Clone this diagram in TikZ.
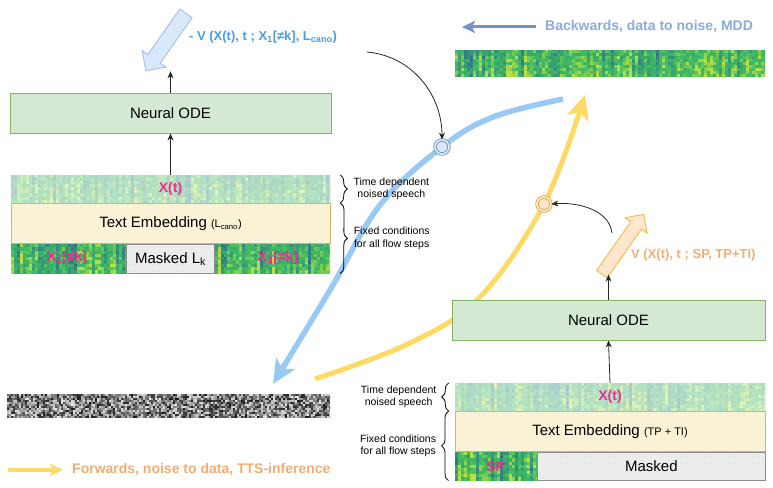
\documentclass[tikz,border=0pt]{standalone}
\usepackage{fontspec}
\setmainfont{Liberation Sans}
\usepackage{tikz}
\usetikzlibrary{positioning,calc,arrows.meta,shapes.arrows,patterns,decorations.pathreplacing}
\usepackage{xcolor}

\definecolor{odefill}{HTML}{D5E8D4}
\definecolor{odedraw}{HTML}{82B366}
\definecolor{embfill}{HTML}{FFF2CC}
\definecolor{embdraw}{HTML}{D6B656}
\definecolor{maskfill}{HTML}{F2F2F2}
\definecolor{maskdraw}{HTML}{8C8C8C}
\definecolor{vblue}{HTML}{2F6B8E}
\definecolor{vgreen}{HTML}{3DB865}
\definecolor{vyellow}{HTML}{D2E838}
\definecolor{bwline}{HTML}{99C9F5}
\definecolor{fwline}{HTML}{FFD966}
\definecolor{bcircdraw}{HTML}{6C8EBF}
\definecolor{bcircfill}{HTML}{DAE8FC}
\definecolor{bfatdraw}{HTML}{A9C4EB}
\definecolor{ycircdraw}{HTML}{E0A43C}
\definecolor{ycircfill}{HTML}{FFE6CC}
\definecolor{yfatdraw}{HTML}{F2C05A}
\definecolor{pinkl}{HTML}{EE2E8E}
\definecolor{bluetxt}{HTML}{4C9BE8}
\definecolor{orangetxt}{HTML}{F2AE72}
\definecolor{bwtxt}{HTML}{8EAADB}
\definecolor{bwarr}{HTML}{7393CB}

% spectrogram cells inside a node: name, width, height, seed, fade
\newcommand{\spectro}[5]{%
  \begin{scope}
    \clip (#1.north west) rectangle (#1.south east);
    \begin{scope}[shift={(#1.north west)}]
      \pgfmathsetseed{#4}
      \pgfmathtruncatemacro\ncol{#2/3}
      \foreach \c in {0,...,\ncol}{
        \pgfmathsetmacro\base{sqrt(rnd)}
        \foreach \r in {0,...,8}{
          \pgfmathsetmacro\v{min(1,max(0,0.7*\base+0.45*rnd-0.12+0.015*\r))}
          \pgfmathtruncatemacro\pb{100-min(100,160*\v)}
          \pgfmathtruncatemacro\pq{100-max(0,(\v-0.7)*270)}
          \fill[vblue!\pb!vgreen!\pq!vyellow] (\c*3,\r*#3/9) rectangle ++(3.3,#3/9+0.3);
        }
      }
      \fill[white,opacity=#5] (0,0) rectangle (#2,#3);
    \end{scope}
  \end{scope}}

% grey noise inside a node: name, width, height, seed
\newcommand{\noisebar}[4]{%
  \begin{scope}
    \clip (#1.north west) rectangle (#1.south east);
    \begin{scope}[shift={(#1.north west)}]
      \pgfmathsetseed{#4}
      \pgfmathtruncatemacro\ncol{#2/2}
      \pgfmathtruncatemacro\nrow{#3/2-1}
      \foreach \c in {0,...,\ncol}{
        \foreach \r in {0,...,\nrow}{
          \pgfmathtruncatemacro\g{10+80*rnd}
          \fill[black!\g] (\c*2,\r*2) rectangle ++(2.2,2.2);
        }
      }
    \end{scope}
  \end{scope}}

\begin{document}
\begin{tikzpicture}[x=1pt,y=-1pt,
    box/.style={rectangle,draw,line width=1pt,inner sep=0pt,font=\fontsize{15}{18}\selectfont},
    ode/.style={box,fill=odefill,draw=odedraw,minimum height=40pt},
    emb/.style={box,fill=embfill,draw=embdraw,minimum height=40pt,
        postaction={pattern=north east lines,pattern color=embdraw!18},
        postaction={pattern=north west lines,pattern color=embdraw!18},
        postaction={draw=embdraw,line width=1pt}},
    mask/.style={box,fill=maskfill,draw=maskdraw,
        postaction={pattern=north east lines,pattern color=black!9},
        postaction={pattern=north west lines,pattern color=black!9},
        postaction={draw=maskdraw,line width=1pt}},
    strip/.style={rectangle,inner sep=0pt},
    lab/.style={text=pinkl,font=\bfseries\fontsize{14}{16}\selectfont},
    note/.style={font=\fontsize{10.5}{12.5}\selectfont,align=center,inner sep=0pt},
    legtxt/.style={font=\bfseries\fontsize{14}{16}\selectfont,inner sep=0pt},
    vtxt/.style={font=\bfseries\fontsize{13}{15}\selectfont,inner sep=0pt},
    brace/.style={decorate,decoration={brace,amplitude=7pt},line width=0.8pt},
    arr/.style={-{Stealth[length=7pt,width=6pt]},line width=0.8pt,black!85},
    fat/.style={single arrow,line width=1pt,inner xsep=0pt,inner ysep=7pt,
        single arrow head extend=7pt,single arrow head indent=0pt},
    bcirc/.style={circle,draw=bcircdraw,fill=bcircfill,double=bcircfill,double distance=1.8pt,
        line width=0.8pt,minimum size=14pt,inner sep=0pt},
    ycirc/.style={bcirc,draw=ycircdraw,fill=ycircfill,double=ycircfill}]

\useasboundingbox (0,0) rectangle (773,487);

% Flow paths
\coordinate (bcp) at (442,147);
\coordinate (ycp) at (544,204);
\draw[bwline,line width=5.5pt,-{Stealth[length=24pt,width=22pt,inset=6pt]}]
    plot[smooth,tension=0.6] coordinates {(563,99) (493,117) (bcp) (380,205) (330,290) (273,384)};
\draw[fwline,line width=5pt,-{Stealth[length=24pt,width=22pt,inset=6pt]}]
    plot[smooth,tension=0.6] coordinates {(315,379) (410,343) (480,297) (ycp) (585,95)};
\node[bcirc] (bc) at (bcp) {};
\node[ycirc] (yc) at (ycp) {};

% Left stack
\node[ode,minimum width=321] (ode1) at (170.5,113) {Neural ODE};
\node[strip,minimum width=319,minimum height=28] (xt1) at (170.5,189) {};
\node[emb,minimum width=319,below=0pt of xt1] (emb1) {Text Embedding {\fontsize{11}{13}\selectfont(L\textsubscript{cano})}};
\node[strip,minimum width=319,minimum height=29,below=0pt of emb1] (bot1) {};
\spectro{xt1}{319}{28}{3}{0.6}
\spectro{bot1}{319}{29}{7}{0}
\node[lab] (xt1lab) at (xt1) {X(t)};
\node[mask,minimum width=88,minimum height=29] (mask1) at (bot1) {Masked L\textsubscript{k}};
\node[lab] (xk1) at (67,258) {X\textsubscript{1}[≠k]};
\node[lab] (xk2) at (278,258) {X\textsubscript{1}[≠k]};

\draw[brace] ([xshift=10pt]xt1.north east) -- ([xshift=10pt]xt1.south east)
    node[note,midway,right=13pt] (tdn1) {Time dependent\\noised speech};
\draw[brace] ([xshift=10pt]emb1.north east) -- ([xshift=10pt]bot1.south east)
    node[note,midway,right=13pt] (fc1) {Fixed conditions\\for all flow steps};

% Backwards vector
\node[fat,fill=bcircfill,draw=bfatdraw,minimum height=70pt,rotate=235] (vb) at (168,39) {};
\node[vtxt,text=bluetxt,anchor=west] (vlab1) at (189,37)
    {- V (X(t), t ; X\textsubscript{1}[≠k], L\textsubscript{cano})};
\draw[arr] (xt1.north) -- (ode1.south);
\draw[arr] (ode1.north) -- (ode1.north |- vb.tip);

% Right stack
\node[ode,minimum width=313] (ode2) at (608.5,320) {Neural ODE};
\node[strip,minimum width=310,minimum height=28] (xt2) at (610,397) {};
\node[emb,minimum width=310,below=0pt of xt2] (emb2) {Text Embedding {\fontsize{11}{13}\selectfont(TP + TI)}};
\node[strip,minimum width=82,minimum height=28,anchor=north west] (sp2) at (emb2.south west) {};
\spectro{xt2}{310}{28}{11}{0.6}
\spectro{sp2}{82}{28}{13}{0}
\node[lab] (xt2lab) at (xt2) {X(t)};
\node[lab] (splab) at (sp2) {SP};
\node[mask,minimum width=228,minimum height=28,right=0pt of sp2] (mask2) {Masked};

\draw[brace] ([xshift=-6pt]xt2.south west) -- ([xshift=-6pt]xt2.north west)
    node[note,midway,left=12pt] (tdn2) {Time dependent\\noised speech};
\draw[brace] ([xshift=-6pt]sp2.south west) -- ([xshift=-6pt]emb2.north west)
    node[note,midway,left=12pt] (fc2) {Fixed conditions\\for all flow steps};

% Forwards vector
\node[fat,fill=ycircfill,draw=yfatdraw,minimum height=73pt,inner ysep=6pt,rotate=55] (vo) at (621,247) {};
\node[vtxt,text=orangetxt,anchor=west] (vlab2) at (631,255) {V (X(t), t ; SP, TP+TI)};
\draw[arr] (xt2.north) -- (ode2.south);
\draw[arr] (ode2.north) -- (ode2.north |- vo.tail);

% Data and noise
\node[strip,minimum width=310,minimum height=27] (spec3) at (610,63.5) {};
\spectro{spec3}{310}{27}{17}{0}
\node[strip,minimum width=323,minimum height=24] (noise1) at (168.5,406) {};
\noisebar{noise1}{323}{24}{21}

% Pointers to the flow
\coordinate (c1) at (367,52);
\coordinate (c2) at (612,233);
\draw[arr] (c1) .. controls +(45,4) and +(0,-45) .. (bc.north);
\draw[arr] (c2) .. controls +(-3,-24) and +(25,-2) .. (yc.east);

% Legend
\coordinate (bwend) at (462,27);
\node[legtxt,text=bwtxt,anchor=west] (bwleg) at (545,27) {Backwards, data to noise, MDD};
\draw[bwarr,line width=3pt,-{Stealth[length=13pt,width=12pt,inset=3pt]}] ([xshift=-9pt]bwleg.west) -- (bwend);
\coordinate (fwstart) at (8,470);
\node[legtxt,text=orangetxt,anchor=west] (fwleg) at (72,470) {Forwards, noise to data, TTS-inference};
\draw[fwline,line width=3.5pt,-{Stealth[length=13pt,width=12pt,inset=3pt]}] (fwstart) -- ([xshift=-9pt]fwleg.west);

\end{tikzpicture}
\end{document}
